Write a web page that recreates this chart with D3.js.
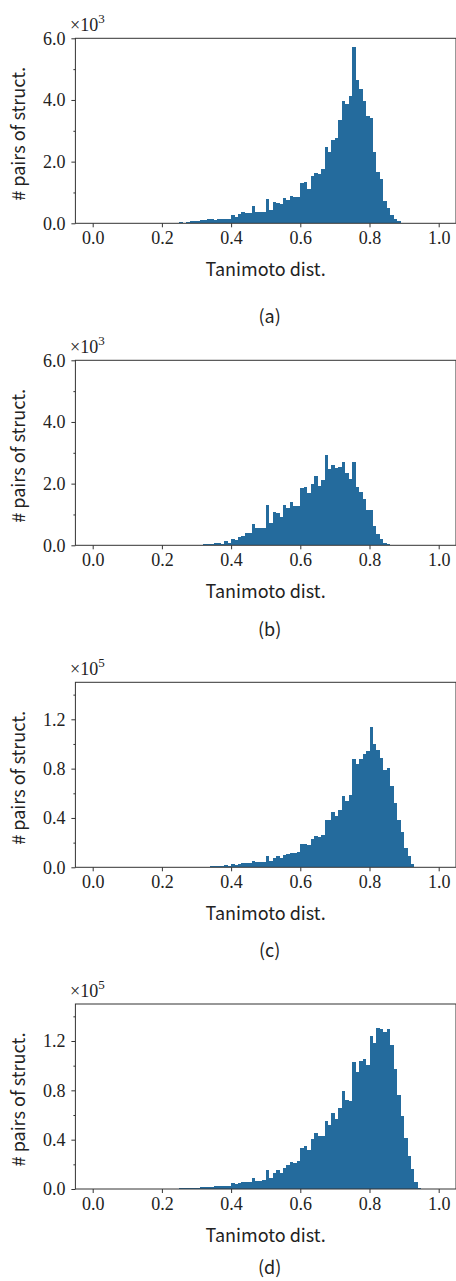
<!DOCTYPE html>
<html>
<head>
<meta charset="utf-8">
<script src="https://cdn.jsdelivr.net/npm/d3@7/dist/d3.min.js"></script>
<style>
  html, body { margin: 0; padding: 0; background: #fff; }
  svg { display: block; }
</style>
</head>
<body>
<svg id="chart" width="456" height="1281"></svg>
<script>
// ---------- DATA ----------
const binWidth = 0.01;
const panelLabels = ["(a)", "(b)", "(c)", "(d)"];
const xTickValues = [0, 0.2, 0.4, 0.6, 0.8, 1.0];
const xLabel = "Tanimoto dist.";
const yLabel = "# pairs of struct.";

const binStartA = 0.25;
const countsA = [30, 15, 45, 60, 70, 80, 100, 110, 130, 140, 110, 130,
  140, 140, 140, 270, 205, 300, 370, 345, 345, 560, 370, 370, 370,
  790, 430, 700, 670, 630, 820, 760, 890, 850, 850,
  1310, 1340, 1110, 1535, 1630, 1600, 1760, 2475, 2310, 2700, 2770,
  3350, 3970, 3870, 4130, 5720, 4650, 4360, 3970, 3480, 3420,
  2310, 1665, 1440, 725, 500, 270, 140, 75, 20];

const binStartB = 0.32;
const countsB = [30, 35, 45, 60, 70, 55, 130, 75, 195, 160, 260, 290, 390, 390,
  680, 550, 550, 550, 1300, 715, 1070, 1040, 910, 1300, 1200, 1395, 1265, 1265,
  1850, 1880, 1690, 1980, 2240, 1910, 2110, 2920, 2465, 2595, 2500, 2530, 2690,
  2335, 2140, 2690, 1880, 1720, 1490, 1135, 1135, 615, 355, 195, 75, 30, 10, 5];

const binStartC = 0.31;
const countsC = [400, 500, 600, 700, 800, 900, 1080, 1620, 1080, 2430, 1900, 2700,
  3500, 3500, 3500, 5140, 4600, 4050, 4300, 9200, 5140, 7570, 8900, 7570,
  10000, 11100, 11600, 11600, 12400, 18900, 18900, 18100, 23000, 25400, 24600,
  26200, 38400, 38400, 44900, 41600, 46500, 57800, 53800, 58700,
  87800, 83800, 87800, 91900, 94300, 113800, 100000, 95100, 88700, 78900,
  80500, 66000, 52200, 38400, 28700, 15700, 9200, 2700, 270];

const binStartD = 0.22;
const countsD = [300, 400, 400, 500, 500, 600, 700, 900, 1100, 1300, 1500, 1800,
  2000, 2200, 2200, 2700, 2700, 2160, 4600, 3800, 4600, 5400, 5400, 5400,
  8650, 6200, 6200, 7000, 15100, 8650, 12700, 15100, 12700, 16800, 19200,
  21600, 20800, 22400, 33000, 34600, 31400, 40300, 45100, 42700, 42700,
  54900, 51600, 61400, 56500, 65400, 79200, 71900, 71100,
  102700, 94600, 103500, 105100, 100300, 123800, 118100, 130300, 129500,
  127000, 129500, 116500, 97000, 76000, 58900, 41100, 26500, 15900, 5400, 540];

const yMaxSmall = 6000;
const yMajorSmall = [0, 2000, 4000, 6000];
const yMinorSmall = [1000, 3000, 5000];
const yExpSmall = 3;

const yMaxLarge = 150000;
const yMajorLarge = [0, 40000, 80000, 120000];
const yMinorLarge = [20000, 60000, 100000, 140000];
const yExpLarge = 5;

// ---------- LAYOUT ----------
const svg = d3.select("#chart");
const plotLeft = 75.4, plotW = 380.6, plotH = 185;
const panelTops = [38.3, 360.3, 682.3, 1004.0];
const panelLabelOffsets = [100, 91, 90, 85];
const barColor = "#246b9d";
const serif = "'Liberation Serif', 'DejaVu Serif', serif";
const sans = "'Noto Sans CJK JP', 'Noto Sans', sans-serif";

const panels = [
  {start: binStartA, counts: countsA, yMax: yMaxSmall, major: yMajorSmall, minor: yMinorSmall, exp: yExpSmall},
  {start: binStartB, counts: countsB, yMax: yMaxSmall, major: yMajorSmall, minor: yMinorSmall, exp: yExpSmall},
  {start: binStartC, counts: countsC, yMax: yMaxLarge, major: yMajorLarge, minor: yMinorLarge, exp: yExpLarge},
  {start: binStartD, counts: countsD, yMax: yMaxLarge, major: yMajorLarge, minor: yMinorLarge, exp: yExpLarge}
];

const x = d3.scaleLinear().domain([-0.05, 1.05]).range([0, plotW]);

panels.forEach((p, i) => {
  const top = panelTops[i];
  const g = svg.append("g").attr("transform", `translate(${plotLeft},${top})`);
  const y = d3.scaleLinear().domain([0, p.yMax]).range([plotH, 0]);
  const scaleDiv = Math.pow(10, p.exp);

  const bins = p.counts.map((c, k) => ({
    x0: +(p.start + k * binWidth).toFixed(4),
    x1: +(p.start + (k + 1) * binWidth).toFixed(4),
    v: c
  }));

  g.append("g").selectAll("rect").data(bins).join("rect")
    .attr("x", d => x(d.x0))
    .attr("width", d => x(d.x1) - x(d.x0))
    .attr("y", d => y(d.v))
    .attr("height", d => plotH - y(d.v))
    .attr("fill", barColor)
    .attr("shape-rendering", "crispEdges");

  // x axis
  const xAxis = d3.axisBottom(x).tickValues(xTickValues)
    .tickFormat(d3.format(".1f")).tickSize(4).tickSizeOuter(0).tickPadding(4);
  const gx = g.append("g").attr("transform", `translate(0,${plotH})`).call(xAxis);
  gx.select(".domain").remove();
  gx.selectAll("text").attr("font-family", serif).attr("font-size", 18).attr("fill", "#222");
  gx.selectAll("line").attr("stroke", "#333");

  // y axis major
  const yAxis = d3.axisLeft(y).tickValues(p.major)
    .tickFormat(v => (v / scaleDiv).toFixed(1)).tickSize(4).tickSizeOuter(0).tickPadding(6);
  const gy = g.append("g").call(yAxis);
  gy.select(".domain").remove();
  gy.selectAll("text").attr("font-family", serif).attr("font-size", 18).attr("fill", "#222");
  gy.selectAll("line").attr("stroke", "#333");

  // y axis minor
  const yMinor = d3.axisLeft(y).tickValues(p.minor).tickFormat("").tickSize(2).tickSizeOuter(0);
  const gym = g.append("g").call(yMinor);
  gym.select(".domain").remove();
  gym.selectAll("line").attr("stroke", "#333");

  // frame
  g.append("rect").attr("x", 0).attr("y", 0).attr("width", plotW).attr("height", plotH)
    .attr("fill", "none").attr("stroke", "#333").attr("stroke-width", 1);

  // offset text ×10^n
  const off = g.append("text").attr("x", -5.4).attr("y", -7.3)
    .attr("font-family", serif).attr("font-size", 18).attr("fill", "#222");
  off.append("tspan").text("×10");
  off.append("tspan").attr("font-size", 13).attr("dy", -8).text(String(p.exp));

  // x label
  g.append("text").attr("x", plotW / 2).attr("y", plotH + 52.5)
    .attr("text-anchor", "middle").attr("font-family", sans).attr("font-size", 18)
    .attr("fill", "#222").text(xLabel);

  // panel label
  g.append("text").attr("x", plotW / 2 + 4).attr("y", plotH + panelLabelOffsets[i])
    .attr("text-anchor", "middle").attr("font-family", sans).attr("font-size", 18)
    .attr("fill", "#222").text(panelLabels[i]);

  // y label
  g.append("text").attr("transform", `translate(${25 - plotLeft},${plotH / 2 + 3}) rotate(-90)`)
    .attr("text-anchor", "middle").attr("font-family", sans).attr("font-size", 18)
    .attr("fill", "#222").text(yLabel);
});
</script>
</body>
</html>
